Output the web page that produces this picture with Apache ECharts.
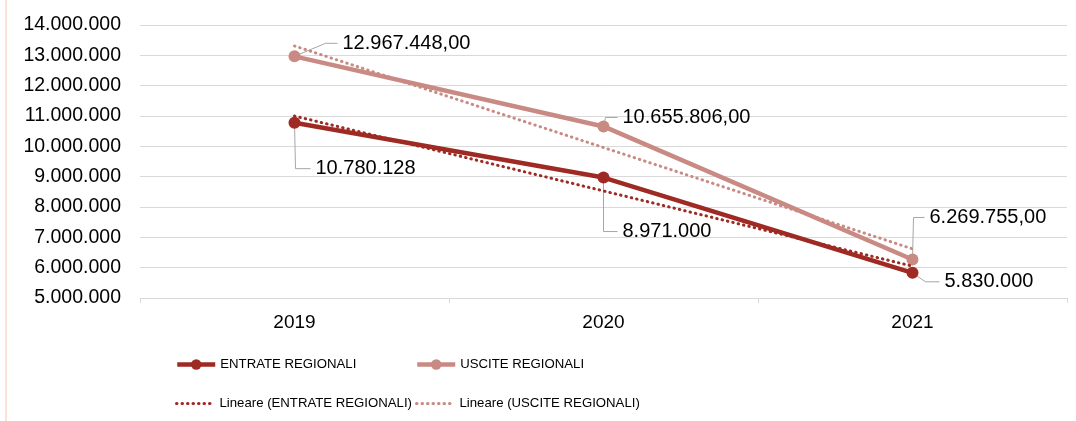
<!DOCTYPE html>
<html>
<head>
<meta charset="utf-8">
<script src="https://cdn.jsdelivr.net/npm/echarts@6/dist/echarts.min.js"></script>
<style>
  html, body { margin: 0; padding: 0; background: #fff; }
  #main { width: 1076px; height: 421px; }
</style>
</head>
<body>
<div id="main"></div>
<script>
// anni e valori
const years = ['2019', '2020', '2021'];
const entrate = [10780128, 8971000, 5830000];
const uscite = [12967448, 10655806, 6269755];
// linee di tendenza
const trendEntrate = [11000000, 8530000, 6050000];
const trendUscite = [13310000, 9960000, 6620000];

// posizione etichette rispetto al punto: [dx testo, dy centro, dx gomito]
const offEntrate = [[21, 46, 1], [19, 54, 0], [32, 9, 13]];
const offUscite = [[48, -13, 31], [19, -9, 2], [17, -42, 1]];

const RED = '#9E2A23';
const PINK = '#C98A84';
const FONT = 'Liberation Sans, Arial, sans-serif';

function fmt(v) {
    return String(Math.round(v)).replace(/\B(?=(\d{3})+(?!\d))/g, '.');
}

function layoutFor(offsets) {
    return (params) => {
        const r = params.rect;
        const off = offsets[params.dataIndex];
        return {
            x: r.x + r.width / 2 + off[0],
            y: r.y + r.height / 2 + off[1],
            align: 'left',
            verticalAlign: 'middle'
        };
    };
}

const chart = echarts.init(document.getElementById('main'));

function legendBox(name, left, top, isTrend) {
    const item = { name: name };
    if (isTrend) {
        item.itemStyle = { color: 'rgba(0,0,0,0)', opacity: 0, borderWidth: 0 };
        item.lineStyle = { width: 3, type: [0.5, 5], cap: 'round' };
    } else {
        item.lineStyle = { width: 4.5 };
    }
    return {
        left: left,
        top: top,
        padding: 0,
        itemWidth: 38,
        itemHeight: 13,
        itemGap: 5,
        textStyle: { fontSize: 13.2, color: '#000', fontFamily: FONT },
        data: [item]
    };
}

const option = {
    animation: false,
    textStyle: { fontFamily: FONT },
    graphic: [
        {
            type: 'line',
            shape: { x1: 6, y1: 0, x2: 6, y2: 421 },
            style: { stroke: '#FBD9C6', lineWidth: 1.5 }
        }
    ],
    grid: { left: 140, right: 9, top: 25, bottom: 123 },
    legend: [
        legendBox('ENTRATE REGIONALI', 175, 358, false),
        legendBox('USCITE REGIONALI', 415, 358, false),
        legendBox('Lineare (ENTRATE REGIONALI)', 175, 397, true),
        legendBox('Lineare (USCITE REGIONALI)', 415, 397, true)
    ],
    xAxis: {
        type: 'category',
        data: years,
        axisLine: { lineStyle: { color: '#D9D9D9', width: 1 } },
        axisTick: { show: true, length: 5, lineStyle: { color: '#D9D9D9' } },
        axisLabel: { fontSize: 19, color: '#000', fontFamily: FONT, margin: 15 }
    },
    yAxis: {
        type: 'value',
        min: 5000000,
        max: 14000000,
        interval: 1000000,
        axisLine: { show: false },
        axisTick: { show: false },
        splitLine: { lineStyle: { color: '#D9D9D9', width: 1 } },
        axisLabel: {
            fontSize: 19.5,
            color: '#000',
            fontFamily: FONT,
            margin: 19,
            formatter: (v) => fmt(v)
        }
    },
    series: [
        {
            name: 'ENTRATE REGIONALI',
            type: 'line',
            data: entrate,
            z: 4,
            symbol: 'circle',
            symbolSize: 12,
            itemStyle: { color: RED },
            lineStyle: { color: RED, width: 4.5 },
            label: {
                show: true,
                fontSize: 20,
                color: '#000',
                fontFamily: FONT,
                formatter: (p) => fmt(p.value)
            },
            labelLayout: layoutFor(offEntrate)
        },
        {
            name: 'USCITE REGIONALI',
            type: 'line',
            data: uscite,
            z: 3,
            symbol: 'circle',
            symbolSize: 12,
            itemStyle: { color: PINK },
            lineStyle: { color: PINK, width: 4.5 },
            label: {
                show: true,
                fontSize: 20,
                color: '#000',
                fontFamily: FONT,
                formatter: (p) => fmt(p.value) + ',00'
            },
            labelLayout: layoutFor(offUscite)
        },
        {
            name: 'Lineare (ENTRATE REGIONALI)',
            type: 'line',
            data: trendEntrate,
            z: 5,
            symbol: 'none',
            itemStyle: { color: RED },
            lineStyle: { color: RED, width: 3, type: [0.5, 5], cap: 'round' }
        },
        {
            name: 'Lineare (USCITE REGIONALI)',
            type: 'line',
            data: trendUscite,
            z: 5,
            symbol: 'none',
            itemStyle: { color: PINK },
            lineStyle: { color: PINK, width: 3, type: [0.5, 5], cap: 'round' }
        }
    ]
};

chart.setOption(option);

// linee guida delle etichette (come nel grafico di Excel)
function leaderLines(values, offsets) {
    return values.map((v, i) => {
        const p = chart.convertToPixel({ seriesIndex: 0 }, [i, v]);
        const off = offsets[i];
        const ly = p[1] + off[1];
        return {
            type: 'polyline',
            z: 2,
            shape: {
                points: [
                    [p[0], p[1]],
                    [p[0] + off[2], ly],
                    [p[0] + off[0] - 5, ly]
                ]
            },
            style: { stroke: '#A6A6A6', lineWidth: 1, fill: null }
        };
    });
}

chart.setOption({
    graphic: option.graphic
        .concat(leaderLines(entrate, offEntrate))
        .concat(leaderLines(uscite, offUscite))
});
</script>
</body>
</html>
